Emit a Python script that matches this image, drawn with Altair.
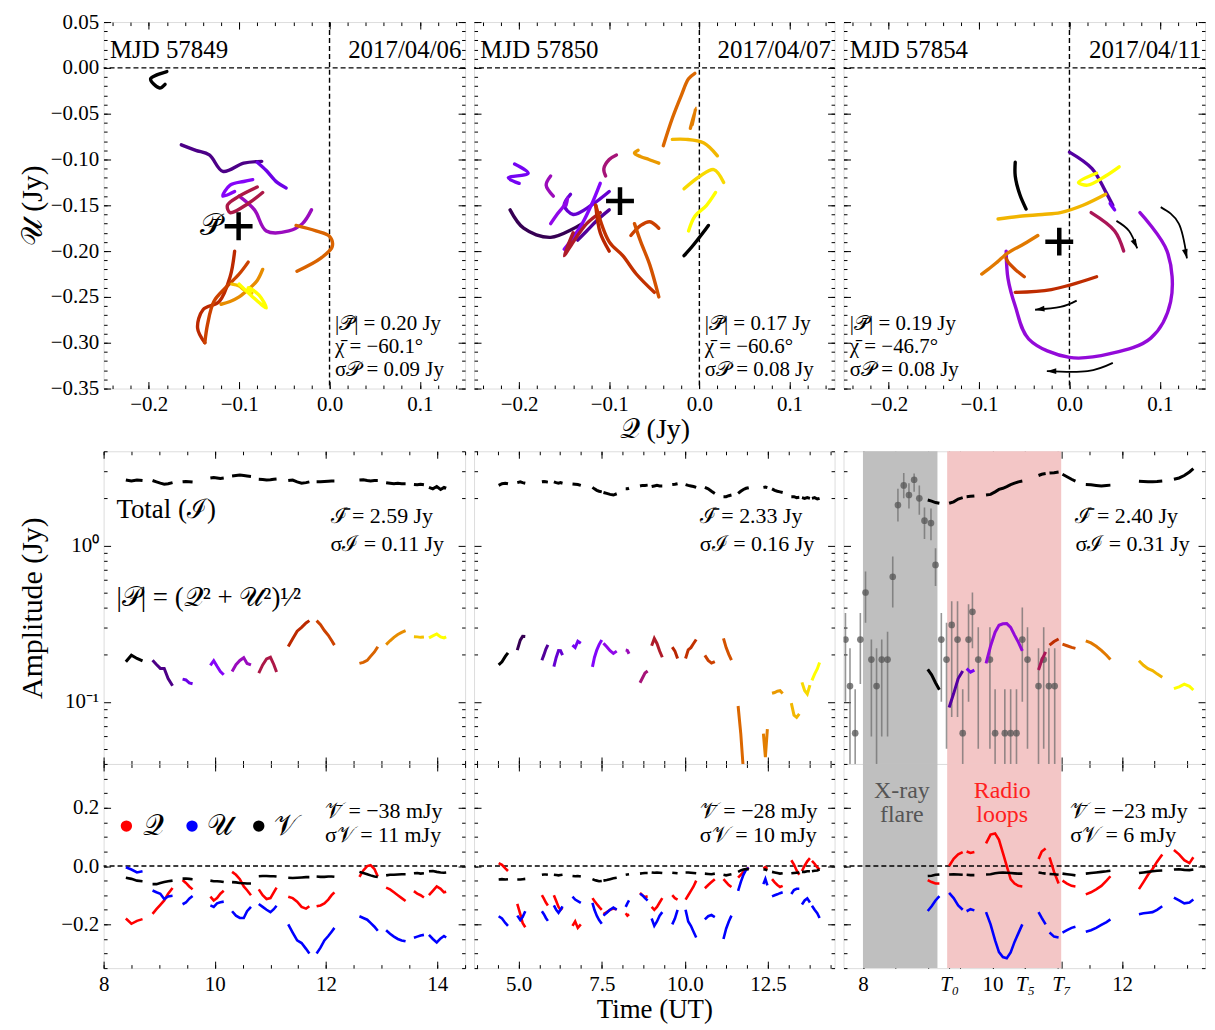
import math
import altair as alt
import pandas as pd

FONT = "Liberation Serif"
W = [363, 362, 363]
H_TOP, H_GAP, H_MID, H_BOT = 368, 63, 314, 205

# ---------------- labels / summary numbers ----------------
MJD = [57849, 57850, 57854]
DATES = ["2017/04/06", "2017/04/07", "2017/04/11"]
P_MEAN = [0.20, 0.17, 0.19]
CHI_MEAN = [-60.1, -60.6, -46.7]
SIG_P = [0.09, 0.08, 0.08]
I_MEAN = [2.59, 2.33, 2.40]
I_SIG = [0.11, 0.16, 0.31]
V_MEAN = [-38, -28, -23]
V_SIG = [11, 10, 6]

# ---------------- day 1 : MJD 57849 (one list per scan group) ----------------
D1_T = [
    [8.40, 8.50, 8.60, 8.70],
    [8.88, 8.95, 9.02, 9.09, 9.16, 9.24],
    [9.42, 9.48, 9.54, 9.60],
    [9.92, 9.98, 10.04, 10.10, 10.16],
    [10.31, 10.38, 10.45, 10.52, 10.58, 10.65],
    [10.79, 10.86, 10.93, 11.00, 11.06, 11.11],
    [11.32, 11.40, 11.48, 11.56, 11.64, 11.70],
    [11.83, 11.90, 11.97, 12.04, 12.10, 12.15],
    [12.60, 12.67, 12.74, 12.80, 12.87, 12.93],
    [13.08, 13.15, 13.22, 13.29, 13.36, 13.43],
    [13.58, 13.64, 13.70, 13.76],
    [13.85, 13.92, 13.99, 14.06, 14.12, 14.16],
]
D1_Q = [
    [-0.180, -0.198, -0.188, -0.182],
    [-0.164, -0.148, -0.133, -0.118, -0.095, -0.075],
    [-0.048, -0.058, -0.070, -0.080],
    [-0.105, -0.118, -0.110, -0.095, -0.085],
    [-0.020, -0.030, -0.045, -0.070, -0.083, -0.100],
    [-0.080, -0.100, -0.113, -0.110, -0.090, -0.074],
    [-0.105, -0.110, -0.122, -0.140, -0.146, -0.138],
    [-0.138, -0.135, -0.128, -0.115, -0.100, -0.090],
    [-0.037, -0.015, 0.000, 0.003, -0.010, -0.036],
    [-0.074, -0.080, -0.090, -0.100, -0.110, -0.120],
    [-0.086, -0.095, -0.100, -0.108],
    [-0.100, -0.085, -0.070, -0.078, -0.090, -0.088],
]
D1_U = [
    [-0.004, -0.012, -0.022, -0.018],
    [-0.084, -0.090, -0.095, -0.113, -0.104, -0.102],
    [-0.131, -0.125, -0.112, -0.103],
    [-0.135, -0.140, -0.128, -0.124, -0.122],
    [-0.155, -0.170, -0.178, -0.178, -0.155, -0.140],
    [-0.130, -0.140, -0.150, -0.158, -0.148, -0.136],
    [-0.200, -0.228, -0.255, -0.264, -0.284, -0.300],
    [-0.300, -0.280, -0.255, -0.240, -0.225, -0.212],
    [-0.172, -0.178, -0.184, -0.195, -0.208, -0.222],
    [-0.220, -0.232, -0.242, -0.250, -0.255, -0.258],
    [-0.246, -0.242, -0.238, -0.236],
    [-0.236, -0.250, -0.262, -0.248, -0.240, -0.245],
]
D1_V = [
    [-0.040, -0.044, -0.050, -0.052],
    [-0.062, -0.062, -0.058, -0.055, -0.052, -0.050],
    [-0.043, -0.043, -0.044, -0.045],
    [-0.050, -0.052, -0.052, -0.053, -0.055],
    [-0.055, -0.056, -0.058, -0.059, -0.060, -0.060],
    [-0.035, -0.034, -0.034, -0.035, -0.035, -0.036],
    [-0.040, -0.041, -0.040, -0.039, -0.038, -0.038],
    [-0.036, -0.037, -0.037, -0.036, -0.036, -0.037],
    [-0.020, -0.024, -0.028, -0.032, -0.036, -0.037],
    [-0.032, -0.030, -0.030, -0.029, -0.028, -0.028],
    [-0.025, -0.024, -0.026, -0.025],
    [-0.018, -0.017, -0.020, -0.022, -0.023, -0.022],
]
D1_I = [
    [2.62, 2.58, 2.62, 2.60],
    [2.60, 2.55, 2.50, 2.46, 2.48, 2.52],
    [2.55, 2.56, 2.55, 2.54],
    [2.70, 2.72, 2.70, 2.68, 2.70],
    [2.78, 2.80, 2.82, 2.80, 2.78, 2.76],
    [2.65, 2.64, 2.62, 2.63, 2.65, 2.66],
    [2.60, 2.62, 2.55, 2.50, 2.52, 2.55],
    [2.55, 2.55, 2.56, 2.57, 2.58, 2.58],
    [2.62, 2.63, 2.60, 2.58, 2.60, 2.60],
    [2.52, 2.50, 2.48, 2.50, 2.48, 2.48],
    [2.45, 2.44, 2.46, 2.44],
    [2.35, 2.30, 2.38, 2.28, 2.35, 2.32],
]

# ---------------- day 2 : MJD 57850 ----------------
D2_T = [
    [4.40, 4.50, 4.60, 4.68],
    [4.96, 5.05, 5.12, 5.20],
    [5.70, 5.76, 5.82, 5.88],
    [6.06, 6.13, 6.20, 6.26, 6.32],
    [6.62, 6.70, 6.78, 6.87],
    [7.22, 7.28, 7.35, 7.42, 7.50],
    [7.55, 7.65, 7.75, 7.85, 7.95],
    [8.22, 8.27, 8.32],
    [8.65, 8.72, 8.80, 8.88],
    [9.00, 9.08, 9.16, 9.24, 9.32],
    [9.62, 9.70, 9.78],
    [10.02, 10.10, 10.18, 10.26, 10.34],
    [10.60, 10.70, 10.80, 10.90],
    [11.16, 11.24, 11.32, 11.40],
    [11.60, 11.68, 11.76, 11.84, 11.92],
    [12.36, 12.42, 12.48],
    [12.62, 12.70, 12.78, 12.86, 12.94],
    [13.20, 13.28, 13.36, 13.44],
    [13.52, 13.60, 13.68, 13.76],
    [13.82, 13.90, 13.98, 14.05],
]
D2_Q = [
    [0.010, 0.004, -0.008, -0.017],
    [-0.130, -0.165, -0.195, -0.210],
    [-0.100, -0.112, -0.125, -0.135],
    [-0.100, -0.120, -0.140, -0.150, -0.143],
    [-0.205, -0.190, -0.212, -0.200],
    [-0.110, -0.120, -0.130, -0.140, -0.150],
    [-0.165, -0.158, -0.150, -0.146, -0.148],
    [-0.162, -0.170, -0.165],
    [-0.092, -0.100, -0.106, -0.104],
    [-0.140, -0.150, -0.140, -0.125, -0.110],
    [-0.100, -0.110, -0.115],
    [-0.115, -0.100, -0.085, -0.070, -0.050],
    [-0.076, -0.065, -0.055, -0.045],
    [-0.045, -0.055, -0.065, -0.072],
    [-0.040, -0.030, -0.020, -0.012, -0.005],
    [-0.008, -0.004, -0.010],
    [-0.045, -0.056, -0.065, -0.072, -0.068],
    [0.020, 0.005, -0.015, -0.030],
    [-0.017, 0.001, 0.016, 0.027],
    [0.018, 0.008, -0.005, -0.012],
]
D2_U = [
    [-0.172, -0.180, -0.195, -0.205],
    [-0.170, -0.185, -0.175, -0.155],
    [-0.155, -0.165, -0.178, -0.188],
    [-0.135, -0.150, -0.160, -0.150, -0.138],
    [-0.105, -0.115, -0.120, -0.126],
    [-0.126, -0.150, -0.170, -0.185, -0.198],
    [-0.170, -0.160, -0.150, -0.142, -0.150],
    [-0.140, -0.128, -0.118],
    [-0.095, -0.100, -0.110, -0.118],
    [-0.180, -0.205, -0.190, -0.170, -0.158],
    [-0.200, -0.180, -0.150],
    [-0.150, -0.190, -0.205, -0.225, -0.245],
    [-0.183, -0.172, -0.168, -0.175],
    [-0.250, -0.215, -0.190, -0.170],
    [-0.085, -0.055, -0.030, -0.012, -0.006],
    [-0.062, -0.044, -0.066],
    [-0.104, -0.100, -0.097, -0.093, -0.090],
    [-0.096, -0.082, -0.078, -0.078],
    [-0.132, -0.118, -0.111, -0.125],
    [-0.136, -0.150, -0.162, -0.178],
]
D2_V = [
    [-0.046, -0.045, -0.046, -0.045],
    [-0.046, -0.046, -0.045, -0.044],
    [-0.030, -0.029, -0.029, -0.030],
    [-0.030, -0.031, -0.032, -0.031, -0.030],
    [-0.034, -0.035, -0.034, -0.036],
    [-0.045, -0.048, -0.050, -0.052, -0.051],
    [-0.050, -0.048, -0.045, -0.042, -0.040],
    [-0.030, -0.029, -0.028],
    [-0.026, -0.025, -0.024, -0.024],
    [-0.022, -0.023, -0.022, -0.023, -0.024],
    [-0.023, -0.024, -0.025],
    [-0.022, -0.022, -0.023, -0.024, -0.025],
    [-0.026, -0.027, -0.028, -0.026],
    [-0.030, -0.032, -0.030, -0.028],
    [-0.020, -0.015, -0.012, -0.010, -0.012],
    [-0.012, -0.012, -0.015],
    [-0.020, -0.022, -0.024, -0.026, -0.025],
    [-0.025, -0.024, -0.023, -0.022],
    [-0.020, -0.020, -0.018, -0.018],
    [-0.018, -0.016, -0.015, -0.012],
]
D2_I = [
    [2.42, 2.48, 2.50, 2.48],
    [2.52, 2.55, 2.52, 2.50],
    [2.55, 2.56, 2.55, 2.54],
    [2.55, 2.52, 2.50, 2.52, 2.50],
    [2.47, 2.46, 2.45, 2.42],
    [2.35, 2.30, 2.25, 2.22, 2.20],
    [2.18, 2.15, 2.12, 2.10, 2.14],
    [2.30, 2.30, 2.32],
    [2.40, 2.42, 2.42, 2.43],
    [2.38, 2.40, 2.42, 2.40, 2.40],
    [2.45, 2.46, 2.48],
    [2.45, 2.42, 2.40, 2.38, 2.35],
    [2.35, 2.30, 2.22, 2.15],
    [2.05, 2.05, 2.08, 2.10],
    [2.15, 2.22, 2.28, 2.32, 2.34],
    [2.35, 2.36, 2.34],
    [2.30, 2.25, 2.22, 2.20, 2.18],
    [2.05, 2.05, 2.02, 2.03],
    [2.02, 2.00, 2.02, 2.00],
    [2.00, 2.02, 1.98, 2.00],
]

# ---------------- day 3 : MJD 57854 ----------------
D3_T = [
    [9.00, 9.06, 9.12, 9.18],
    [9.33, 9.40, 9.47, 9.54],
    [9.60, 9.66, 9.72],
    [9.90, 9.97, 10.04, 10.10, 10.16, 10.22, 10.28, 10.34, 10.40, 10.46],
    [10.71, 10.76, 10.82],
    [10.88, 10.95, 11.02],
    [11.08, 11.15, 11.22, 11.28],
    [11.44, 11.52, 11.60, 11.68, 11.76, 11.82],
    [12.26, 12.33, 12.40, 12.47, 12.54, 12.62],
    [12.80, 12.88, 12.96, 13.04, 13.10],
]
D3_Q = [
    [-0.048, -0.055, -0.060, -0.060],
    [0.000, 0.025, 0.040, 0.048],
    [0.050, 0.045, 0.048],
    [0.078, 0.108, 0.112, 0.090, 0.045, 0.000, -0.045, -0.060, -0.068, -0.070],
    [0.024, 0.050, 0.060],
    [0.030, -0.020, -0.060],
    [-0.050, -0.060, -0.068, -0.070],
    [-0.097, -0.090, -0.080, -0.068, -0.050, -0.035],
    [-0.079, -0.055, -0.030, -0.010, 0.015, 0.040],
    [0.055, 0.040, 0.020, 0.010, 0.030],
]
D3_U = [
    [-0.154, -0.138, -0.118, -0.103],
    [-0.092, -0.110, -0.135, -0.150],
    [-0.155, -0.148, -0.152],
    [-0.158, -0.200, -0.255, -0.295, -0.312, -0.316, -0.296, -0.260, -0.230, -0.200],
    [-0.158, -0.178, -0.200],
    [-0.228, -0.242, -0.245],
    [-0.228, -0.220, -0.212, -0.208],
    [-0.225, -0.220, -0.212, -0.202, -0.192, -0.183],
    [-0.165, -0.162, -0.160, -0.158, -0.150, -0.138],
    [-0.108, -0.118, -0.128, -0.125, -0.115],
]
D3_V = [
    [-0.034, -0.033, -0.030, -0.029],
    [-0.029, -0.028, -0.029, -0.030],
    [-0.030, -0.031, -0.031],
    [-0.029, -0.028, -0.025, -0.023, -0.022, -0.023, -0.024, -0.025, -0.026, -0.026],
    [-0.022, -0.024, -0.026],
    [-0.027, -0.028, -0.030],
    [-0.026, -0.028, -0.030, -0.032],
    [-0.026, -0.024, -0.022, -0.020, -0.018, -0.016],
    [-0.024, -0.022, -0.020, -0.018, -0.016, -0.015],
    [-0.012, -0.011, -0.013, -0.014, -0.012],
]
D3_I = [
    [1.95, 1.92, 1.88, 1.86],
    [1.86, 1.90, 1.98, 2.02],
    [2.05, 2.06, 2.07],
    [2.10, 2.12, 2.20, 2.28, 2.32, 2.38, 2.45, 2.50, 2.55, 2.58],
    [2.80, 2.85, 2.88],
    [2.90, 2.92, 2.95],
    [2.85, 2.75, 2.65, 2.58],
    [2.45, 2.44, 2.42, 2.40, 2.42, 2.43],
    [2.57, 2.56, 2.55, 2.55, 2.56, 2.58],
    [2.65, 2.70, 2.80, 2.95, 3.10],
]

# X-ray light curve points (day 3, middle panel)
XR_T = [7.73, 7.80, 7.88, 7.96, 8.04, 8.13, 8.21, 8.29, 8.38, 8.46, 8.54, 8.63, 8.71,
        8.79, 8.87, 8.95, 9.05, 9.12, 9.21, 9.29, 9.37, 9.46, 9.54, 9.63, 9.69, 9.78,
        9.96, 10.04, 10.19, 10.28, 10.37, 10.46, 10.54, 10.71, 10.79, 10.87, 10.96]
XR_V = [0.25, 0.126, 0.063, 0.25, 0.50, 0.186, 0.126, 0.186, 0.186, 0.63, 1.81, 2.42, 2.10,
        2.63, 2.00, 1.44, 1.39, 0.75, 0.25, 0.186, 0.31, 0.25, 0.063, 0.25, 0.376, 0.186,
        0.186, 0.063, 0.063, 0.063, 0.063, 0.25, 0.186, 0.126, 0.186, 0.126, 0.126]
XR_LO = [0.10, 0.02, 0.02, 0.13, 0.32, 0.06, 0.02, 0.06, 0.06, 0.40, 1.42, 2.00, 1.72,
         2.20, 1.57, 1.10, 1.08, 0.55, 0.10, 0.05, 0.08, 0.08, 0.02, 0.10, 0.22, 0.05,
         0.05, 0.02, 0.02, 0.02, 0.02, 0.10, 0.05, 0.02, 0.05, 0.02, 0.02]
XR_HI = [0.37, 0.22, 0.12, 0.37, 0.68, 0.25, 0.22, 0.25, 0.28, 0.85, 2.30, 2.90, 2.50,
         2.88, 2.42, 1.75, 1.72, 0.96, 0.37, 0.32, 0.44, 0.44, 0.12, 0.42, 0.50, 0.30,
         0.30, 0.12, 0.12, 0.12, 0.12, 0.40, 0.30, 0.22, 0.30, 0.22, 0.22]
XRAY_SPAN = [8.0, 9.15]
RADIO_SPAN = [9.30, 11.06]

# curved arrows in the day-3 Q-U panel
ARR_Q = [[0.052, 0.066, 0.075], [0.101, 0.121, 0.130], [0.008, -0.010, -0.038], [0.048, 0.020, -0.025]]
ARR_U = [[-0.167, -0.178, -0.197], [-0.152, -0.170, -0.208], [-0.254, -0.261, -0.264], [-0.322, -0.331, -0.331]]

# axes
Q_DOM, U_DOM = [-0.25, 0.15], [-0.35, 0.05]
AMP_DOM, STK_DOM = [0.04, 4.0], [-0.35, 0.35]
T_DOM = [[8.0, 14.5], [3.66, 14.5], [7.70, 13.28]]
T_MAJ = [[8, 10, 12, 14], [5.0, 7.5, 10.0, 12.5], [8, 9.33, 10, 10.5, 11.06, 12]]
T_MIN = [[8 + 0.5 * i for i in range(14)], [3.75 + 0.625 * i for i in range(18)],
         [8 + 0.5 * i for i in range(11)]]
Q_MAJ = [-0.2, -0.1, 0.0, 0.1]
Q_MIN = [round(-0.24 + 0.02 * i, 2) for i in range(20)]
U_MAJ = [round(-0.35 + 0.05 * i, 2) for i in range(9)]
U_MIN = [round(-0.35 + 0.01 * i, 2) for i in range(41)]
AMP_MAJ = [0.1, 1.0]
AMP_MIN = [0.04, 0.05, 0.06, 0.07, 0.08, 0.09, 0.2, 0.3, 0.4, 0.5, 0.6, 0.7, 0.8, 0.9, 2, 3, 4]
STK_MAJ = [-0.2, 0.0, 0.2]
STK_MIN = [round(-0.35 + 0.05 * i, 2) for i in range(15)]

GNU_DOM = [0, 0.0625, 0.125, 0.1875, 0.25, 0.3125, 0.375, 0.4375, 0.5, 0.5625,
           0.625, 0.6875, 0.75, 0.8125, 0.875, 0.9375, 1]
GNU_RNG = ["#000000", "#400062", "#5a00b4", "#6e02ec", "#8004ff", "#8f08ec", "#9c0db4",
           "#a91562", "#b42000", "#bf2d00", "#ca3e00", "#d35300", "#dd6c00", "#e68900",
           "#efab00", "#f7d200", "#ffff00"]


def build(T, Q, U, V, I):
    n = len(T)
    rows = []
    for s in range(n):
        for k in range(len(T[s])):
            q, u = Q[s][k], U[s][k]
            rows.append(dict(seg=s, k=k, t=T[s][k], Q=q, U=u, V=V[s][k], I=I[s][k],
                             P=math.hypot(q, u), frac=s / (n - 1)))
    return pd.DataFrame(rows)


DAYS = [build(D1_T, D1_Q, D1_U, D1_V, D1_I),
        build(D2_T, D2_Q, D2_U, D2_V, D2_I),
        build(D3_T, D3_Q, D3_U, D3_V, D3_I)]

COLOR = alt.Color("frac:Q", scale=alt.Scale(domain=GNU_DOM, range=GNU_RNG, interpolate="rgb"),
                  legend=None)


def mn(s):
    return s.replace("-", "\u2212")


def texts(rows, xs, ys, size, align="left", color="black", baseline="middle"):
    df = pd.DataFrame(rows, columns=["x", "y", "s"])
    return alt.Chart(df).mark_text(align=align, baseline=baseline, fontSize=size, font=FONT,
                                   color=color).encode(
        x=alt.X("x:Q", scale=xs, axis=None),
        y=alt.Y("y:Q", scale=ys, axis=None),
        text="s:N")


def axis_layers(xs, ys, xdom, ydom, xmaj, xmin, ymaj, ymin, xlab=False, ylab=False,
                xfmt=None, yfmt=None, xexpr=None, yexpr=None, xtitle=None, ytitle=None,
                xtpad=3, ytpad=3, xtsize=26, ytsize=29, xstyle=None):
    df = pd.DataFrame({"ax": [xdom[0]], "ay": [ydom[0]]})
    common = dict(ticks=False, domain=False, grid=False, labelFontSize=21, labelFont=FONT,
                  labelColor="black", labelPadding=5, labelFlush=False, labelOverlap=False,
                  titleFont=FONT, titleFontWeight="normal", titleColor="black")
    xa = dict(orient="bottom", values=xmaj, labels=xlab, title=xtitle, titlePadding=xtpad,
              titleFontSize=xtsize, **common)
    ya = dict(orient="left", values=ymaj, labels=ylab, title=ytitle, titlePadding=ytpad,
              titleFontSize=ytsize, **common)
    if xfmt:
        xa["format"] = xfmt
    if yfmt:
        ya["format"] = yfmt
    if xexpr:
        xa["labelExpr"] = xexpr
    if yexpr:
        ya["labelExpr"] = yexpr
    if xstyle:
        xa["labelFontStyle"] = xstyle

    def lay(ax, ay):
        return alt.Chart(df).mark_point(opacity=0).encode(
            x=alt.X("ax:Q", scale=xs, axis=ax), y=alt.Y("ay:Q", scale=ys, axis=ay))

    def tk(orient, vals, size):
        return alt.Axis(orient=orient, values=vals, ticks=True, tickSize=size, offset=-size,
                        labels=False, domain=False, grid=False, title=None,
                        tickColor="black", tickWidth=1)

    return [lay(alt.Axis(**xa), alt.Axis(**ya)),
            lay(tk("bottom", xmaj, 7), tk("left", ymaj, 7)),
            lay(tk("top", xmaj, 7), tk("right", ymaj, 7)),
            lay(tk("bottom", xmin, 3.5), tk("left", ymin, 3.5)),
            lay(tk("top", xmin, 3.5), tk("right", ymin, 3.5))]


def assemble(layers, w, h):
    return alt.layer(*layers).resolve_axis(x="independent", y="independent").properties(
        width=w, height=h)


def top_panel(d):
    df = DAYS[d]
    xs = alt.Scale(domain=Q_DOM, nice=False, zero=False)
    ys = alt.Scale(domain=U_DOM, nice=False, zero=False)
    zero = pd.DataFrame({"z": [0.0]})
    L = [
        alt.Chart(zero).mark_rule(color="black", strokeWidth=1.4, strokeDash=[5, 3]).encode(
            y=alt.Y("z:Q", scale=ys, axis=None)),
        alt.Chart(zero).mark_rule(color="black", strokeWidth=1.4, strokeDash=[5, 3]).encode(
            x=alt.X("z:Q", scale=xs, axis=None)),
        alt.Chart(df).mark_line(strokeWidth=3.4, strokeCap="round", strokeJoin="round",
                                interpolate="catmull-rom").encode(
            x=alt.X("Q:Q", scale=xs, axis=None), y=alt.Y("U:Q", scale=ys, axis=None),
            color=COLOR, detail="seg:N", order="k:Q"),
    ]
    pq = P_MEAN[d] * math.cos(2 * math.radians(CHI_MEAN[d]))
    pu = P_MEAN[d] * math.sin(2 * math.radians(CHI_MEAN[d]))
    L.append(alt.Chart(pd.DataFrame({"q": [pq], "u": [pu]})).mark_point(
        shape="M-1,0L1,0M0,-1L0,1", size=784, strokeWidth=4.5, color="black", filled=False,
        opacity=1).encode(x=alt.X("q:Q", scale=xs, axis=None), y=alt.Y("u:Q", scale=ys, axis=None)))
    if d == 0:
        L.append(texts([(pq - 0.018, pu, "\U0001D4AB\u0304")], xs, ys, 30, align="right"))
    L.append(texts([(-0.243, 0.02, f"MJD {MJD[d]}")], xs, ys, 25))
    L.append(texts([(0.146, 0.02, DATES[d])], xs, ys, 25, align="right"))
    sx = -0.243 if d == 2 else 0.006
    L.append(texts([(sx, -0.280, f"|\U0001D4AB\u0304| = {P_MEAN[d]:.2f} Jy"),
                    (sx, -0.305, mn(f"\u03C7\u0304 = {CHI_MEAN[d]:.1f}\u00B0")),
                    (sx, -0.330, f"\u03C3\U0001D4AB = {SIG_P[d]:.2f} Jy")], xs, ys, 21))
    if d == 2:
        arows, heads = [], []
        sxp, syp = W[d] / 0.4, H_TOP / 0.4
        for a, (qs, us) in enumerate(zip(ARR_Q, ARR_U)):
            for k in range(len(qs)):
                arows.append({"a": a, "k": k, "q": qs[k], "u": us[k]})
            dx = (qs[-1] - qs[-2]) * sxp
            dy = -(us[-1] - us[-2]) * syp
            heads.append({"q": qs[-1], "u": us[-1],
                          "ang": math.degrees(math.atan2(dx, -dy)) % 360})
        L.append(alt.Chart(pd.DataFrame(arows)).mark_line(
            color="black", strokeWidth=1.8, interpolate="natural").encode(
            x=alt.X("q:Q", scale=xs, axis=None), y=alt.Y("u:Q", scale=ys, axis=None),
            detail="a:N", order="k:Q"))
        L.append(alt.Chart(pd.DataFrame(heads)).mark_point(
            shape="M0,0L-0.55,1.8L0.55,1.8Z", size=110, filled=True, color="black",
            opacity=1).encode(x=alt.X("q:Q", scale=xs, axis=None),
                              y=alt.Y("u:Q", scale=ys, axis=None),
                              angle=alt.Angle("ang:Q", scale=None)))
    L += axis_layers(xs, ys, Q_DOM, U_DOM, Q_MAJ, Q_MIN, U_MAJ, U_MIN,
                     xlab=True, ylab=(d == 0), xfmt=".1f", yfmt=".2f",
                     xtitle=("\U0001D4AC (Jy)" if d == 1 else None),
                     ytitle=("\U0001D4B0 (Jy)" if d == 0 else None), xtpad=1, ytpad=3,
                     xtsize=28, ytsize=30)
    return assemble(L, W[d], H_TOP)


def spacer(d):
    return alt.Chart(pd.DataFrame({"a": [0.0]})).mark_point(opacity=0).encode(
        x=alt.X("a:Q", axis=None), y=alt.Y("a:Q", axis=None)).properties(
        width=W[d], height=H_GAP, view=alt.ViewBackground(strokeOpacity=0))


def spans(xs, d):
    if d != 2:
        return []
    return [
        alt.Chart(pd.DataFrame({"a": [XRAY_SPAN[0]], "b": [XRAY_SPAN[1]]})).mark_rect(
            color="#bfbfbf").encode(x=alt.X("a:Q", scale=xs, axis=None), x2="b:Q"),
        alt.Chart(pd.DataFrame({"a": [RADIO_SPAN[0]], "b": [RADIO_SPAN[1]]})).mark_rect(
            color="#f3c6c6").encode(x=alt.X("a:Q", scale=xs, axis=None), x2="b:Q"),
    ]


T_TEST = ("abs(datum.value-9.33)<0.01 || abs(datum.value-10.5)<0.01 || "
          "abs(datum.value-11.06)<0.01")
T_EXPR = ("abs(datum.value-9.33)<0.01 ? 'T\u2080' : abs(datum.value-10.5)<0.01 ? 'T\u2085' : "
          "abs(datum.value-11.06)<0.01 ? 'T\u2087' : format(datum.value,'d')")
T_STYLE = {"condition": {"test": T_TEST, "value": "italic"}, "value": "normal"}


def mid_panel(d):
    df = DAYS[d]
    xs = alt.Scale(domain=T_DOM[d], nice=False, zero=False)
    ys = alt.Scale(type="log", domain=AMP_DOM, nice=False)
    L = spans(xs, d)
    if d == 2:
        xr = pd.DataFrame({"t": XR_T, "v": XR_V, "lo": XR_LO, "hi": XR_HI})
        L.append(alt.Chart(xr).mark_rule(color="#6a6a6a", opacity=0.7, strokeWidth=1.6,
                                         clip=True).encode(
            x=alt.X("t:Q", scale=xs, axis=None), y=alt.Y("lo:Q", scale=ys, axis=None), y2="hi:Q"))
        L.append(alt.Chart(xr).mark_circle(color="#555555", opacity=0.75, size=45,
                                           clip=True).encode(
            x=alt.X("t:Q", scale=xs, axis=None), y=alt.Y("v:Q", scale=ys, axis=None)))
    L.append(alt.Chart(df).mark_line(color="black", strokeWidth=3, clip=True).encode(
        x=alt.X("t:Q", scale=xs, axis=None), y=alt.Y("I:Q", scale=ys, axis=None), detail="seg:N"))
    L.append(alt.Chart(df).mark_line(strokeWidth=3, clip=True).encode(
        x=alt.X("t:Q", scale=xs, axis=None), y=alt.Y("P:Q", scale=ys, axis=None),
        color=COLOR, detail="seg:N"))
    tx = [12.08, 10.45, 11.28][d]
    L.append(texts([(tx, 1.53, f"\u2110\u0304 = {I_MEAN[d]:.2f} Jy"),
                    (tx, 1.02, f"\u03C3\u2110 = {I_SIG[d]:.2f} Jy")], xs, ys, 22))
    if d == 0:
        L.append(texts([(8.23, 1.69, "Total (\u2110)"),
                        (8.23, 0.46, "|\U0001D4AB| = (\U0001D4AC\u00B2 + \U0001D4B0\u00B2)\u00B9\u2044\u00B2")],
                       xs, ys, 27))
    L += axis_layers(xs, ys, T_DOM[d], AMP_DOM, T_MAJ[d], T_MIN[d], AMP_MAJ, AMP_MIN,
                     xlab=False, ylab=(d == 0),
                     yexpr="datum.value > 0.5 ? '10\u2070' : '10\u207B\u00B9'",
                     ytitle=("Amplitude (Jy)" if d == 0 else None), ytpad=17, ytsize=30)
    return assemble(L, W[d], H_MID)


LEG_DOT = [8.41, 9.59, 10.79]
LEG_TXT = [8.70, 9.86, 11.06]


def bot_panel(d):
    df = DAYS[d]
    xs = alt.Scale(domain=T_DOM[d], nice=False, zero=False)
    ys = alt.Scale(domain=STK_DOM, nice=False, zero=False)
    L = spans(xs, d)
    L.append(alt.Chart(pd.DataFrame({"z": [0.0]})).mark_rule(
        color="black", strokeWidth=1.4, strokeDash=[5, 3]).encode(y=alt.Y("z:Q", scale=ys, axis=None)))
    for fld, col in (("Q", "#ff0000"), ("U", "#0000ff"), ("V", "#000000")):
        L.append(alt.Chart(df).mark_line(color=col, strokeWidth=2.6, clip=True).encode(
            x=alt.X("t:Q", scale=xs, axis=None), y=alt.Y(f"{fld}:Q", scale=ys, axis=None),
            detail="seg:N"))
    tx = [11.98, 10.45, 11.20][d]
    L.append(texts([(tx, 0.19, mn(f"\U0001D4B1\u0304 = {V_MEAN[d]} mJy")),
                    (tx, 0.105, f"\u03C3\U0001D4B1 = {V_SIG[d]} mJy")], xs, ys, 22))
    if d == 0:
        for x0, col in zip(LEG_DOT, ("#ff0000", "#0000ff", "#000000")):
            L.append(alt.Chart(pd.DataFrame({"x": [x0], "y": [0.137]})).mark_circle(
                color=col, size=130, opacity=1).encode(
                x=alt.X("x:Q", scale=xs, axis=None), y=alt.Y("y:Q", scale=ys, axis=None)))
        L.append(texts([(LEG_TXT[0], 0.137, "\U0001D4AC"), (LEG_TXT[1], 0.137, "\U0001D4B0"),
                        (LEG_TXT[2], 0.137, "\U0001D4B1")], xs, ys, 29))
    if d == 2:
        L.append(texts([(8.60, 0.258, "X-ray"), (8.60, 0.174, "flare")], xs, ys, 24,
                       align="center", color="#555555"))
        L.append(texts([(10.15, 0.258, "Radio"), (10.15, 0.174, "loops")], xs, ys, 24,
                       align="center", color="#ff2020"))
    L += axis_layers(xs, ys, T_DOM[d], STK_DOM, T_MAJ[d], T_MIN[d], STK_MAJ, STK_MIN,
                     xlab=True, ylab=(d == 0),
                     xfmt=["d", ".1f", "d"][d], yfmt=".1f",
                     xexpr=(T_EXPR if d == 2 else None),
                     xstyle=(T_STYLE if d == 2 else None),
                     xtitle=("Time (UT)" if d == 1 else None), xtpad=3, xtsize=27)
    return assemble(L, W[d], H_BOT)


panels = ([top_panel(d) for d in range(3)] + [spacer(d) for d in range(3)]
          + [mid_panel(d) for d in range(3)] + [bot_panel(d) for d in range(3)])

chart = alt.concat(*panels, columns=3, spacing={"row": 0, "column": 9}, bounds="flush").properties(
    padding={"left": 8, "top": 0, "right": 0, "bottom": 0}
).configure_view(stroke="black", strokeWidth=1.2).configure(background="white")

chart.save("out.html", embed_options={"renderer": "svg", "actions": False})
